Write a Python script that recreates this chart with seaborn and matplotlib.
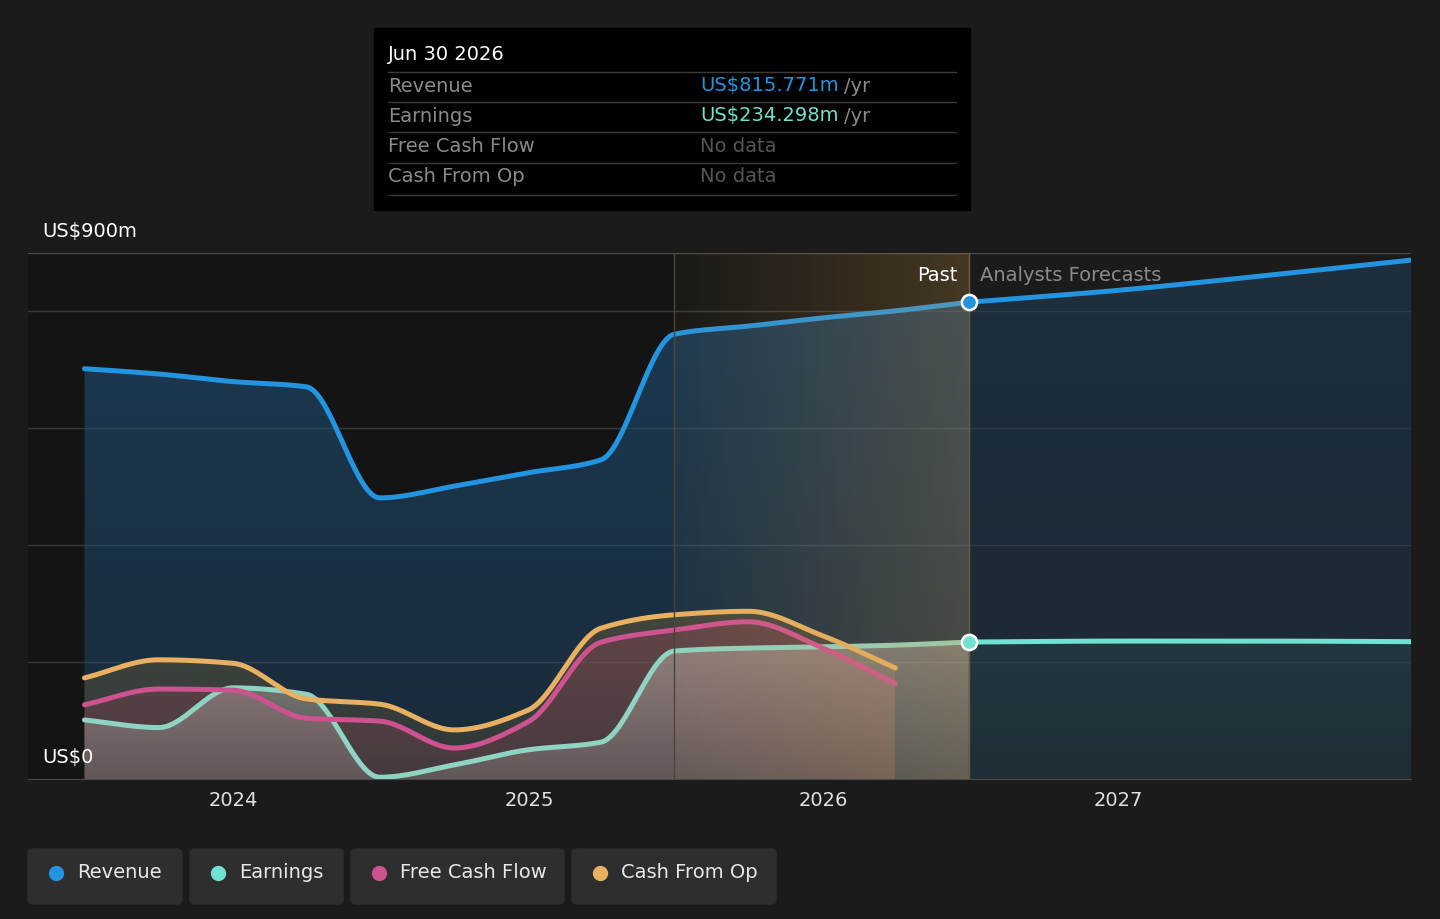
import numpy as np
import pandas as pd
import matplotlib
matplotlib.use("Agg")
import matplotlib.pyplot as plt
import matplotlib.dates as mdates
from matplotlib.patches import Rectangle, FancyBboxPatch
import seaborn as sns

# quarterly history (US$m, trailing twelve months)
past_dates = ["2023-06-30", "2023-09-30", "2023-12-31", "2024-03-31", "2024-06-30",
              "2024-09-30", "2024-12-31", "2025-03-31", "2025-06-30", "2025-09-30",
              "2025-12-31", "2026-03-31", "2026-06-30"]
revenue_past = [702, 693, 680, 671, 481, 501, 524, 546, 761, 775, 789, 801, 815.771]
earnings_past = [101, 88, 156, 145, 3, 24, 50, 63, 219, 224, 226, 229, 234.298]

cash_dates = past_dates[:12]
fcf = [127, 154, 152, 104, 99, 53, 98, 234, 255, 269, 224, 163]
cfo = [173, 204, 198, 137, 128, 84, 118, 258, 281, 287, 245, 190]

# analyst forecasts
fc_dates = ["2026-06-30", "2026-12-31", "2027-06-30", "2027-12-31"]
revenue_fc = [815.771, 836, 861, 888]
earnings_fc = [234.298, 236, 236, 235]

C_REV = "#2394df"
C_EARN = "#6fe3d0"
C_FCF = "#cf5290"
C_CFO = "#e8b060"
BG = "#1b1b1b"
FS = 14


def pchip(x, y, xs):
    x = np.asarray(x, float); y = np.asarray(y, float)
    h = np.diff(x); d = np.diff(y) / h
    m = np.zeros_like(y)
    for i in range(1, len(y) - 1):
        if d[i - 1] * d[i] > 0:
            w1 = 2 * h[i] + h[i - 1]; w2 = h[i] + 2 * h[i - 1]
            m[i] = (w1 + w2) / (w1 / d[i - 1] + w2 / d[i])
    m[0] = d[0]; m[-1] = d[-1]
    idx = np.clip(np.searchsorted(x, xs) - 1, 0, len(h) - 1)
    t = (xs - x[idx]) / h[idx]
    h00 = 2 * t**3 - 3 * t**2 + 1; h10 = t**3 - 2 * t**2 + t
    h01 = -2 * t**3 + 3 * t**2; h11 = t**3 - t**2
    return h00 * y[idx] + h10 * h[idx] * m[idx] + h01 * y[idx + 1] + h11 * h[idx] * m[idx + 1]


def smooth(dates, vals, n=400):
    x = mdates.date2num(pd.to_datetime(dates))
    xs = np.linspace(x[0], x[-1], n)
    return pd.DataFrame({"x": xs, "v": pchip(x, vals, xs)})


def grad_fill(ax, df, rgb, a_top, a_bot, z):
    x = df["x"].values; y = df["v"].values
    poly, = ax.fill(np.r_[x, x[::-1]], np.r_[y, np.zeros_like(y)], facecolor="none", edgecolor="none")
    img = np.zeros((100, 1, 4))
    img[..., :3] = rgb
    img[..., 3] = np.linspace(a_top, a_bot, 100)[:, None]
    im = ax.imshow(img, extent=(x[0], x[-1], 0, y.max()), aspect="auto", origin="upper", zorder=z)
    im.set_clip_path(poly)


sns.set_style("dark")
plt.rcParams["font.family"] = ["DejaVu Sans"]

fig = plt.figure(figsize=(14.4, 9.19), dpi=100, facecolor=BG)
ax = fig.add_axes([28 / 1440, 1 - 779 / 919, (1411 - 28) / 1440, (779 - 253) / 919])
ax.set_facecolor(BG)

x0 = mdates.date2num(pd.Timestamp("2023-04-21"))
x1 = mdates.date2num(pd.Timestamp("2027-12-30"))
xnow = mdates.date2num(pd.Timestamp("2026-06-30"))
xband = mdates.date2num(pd.Timestamp("2025-06-30"))

# darker past region
ax.add_patch(Rectangle((x0, 0), xnow - x0, 900, color="#141414", zorder=0, lw=0))

for g in [200, 400, 600, 800]:
    ax.axhline(g, color="#383838", lw=1, zorder=0.6)
ax.axhline(900, color="#4a4a4a", lw=1, zorder=0.6)

rev_p = smooth(past_dates, revenue_past)
rev_f = smooth(fc_dates, revenue_fc, 200)
earn_p = smooth(past_dates, earnings_past)
earn_f = smooth(fc_dates, earnings_fc, 200)
fcf_s = smooth(cash_dates, fcf)
cfo_s = smooth(cash_dates, cfo)

# area fills with vertical fade
grad_fill(ax, rev_p, (0.13, 0.33, 0.50), 0.58, 0.35, 1.0)
grad_fill(ax, rev_f, (0.13, 0.25, 0.36), 0.55, 0.35, 1.0)
grad_fill(ax, cfo_s, (0.45, 0.38, 0.22), 0.45, 0.25, 1.1)
grad_fill(ax, fcf_s, (0.55, 0.27, 0.33), 0.45, 0.25, 1.2)
grad_fill(ax, earn_p, (0.72, 0.69, 0.66), 0.55, 0.25, 1.3)
grad_fill(ax, earn_f, (0.18, 0.32, 0.34), 0.35, 0.15, 1.3)

LW = 3.6
sns.lineplot(data=rev_p, x="x", y="v", color=C_REV, lw=LW, ax=ax, zorder=3)
sns.lineplot(data=rev_f, x="x", y="v", color=C_REV, lw=LW, ax=ax, zorder=3)
sns.lineplot(data=earn_p, x="x", y="v", color="#8fd3c2", lw=LW, ax=ax, zorder=3)
sns.lineplot(data=earn_f, x="x", y="v", color=C_EARN, lw=LW, ax=ax, zorder=3)
sns.lineplot(data=fcf_s, x="x", y="v", color=C_FCF, lw=LW, ax=ax, zorder=3.2)
sns.lineplot(data=cfo_s, x="x", y="v", color=C_CFO, lw=LW, ax=ax, zorder=3.1)

# highlight band over the last year of history
band = np.zeros((1, 256, 4))
band[..., 0] = 0.82; band[..., 1] = 0.62; band[..., 2] = 0.32
band[..., 3] = np.linspace(0.04, 0.26, 256)
ax.imshow(band, extent=(xband, xnow, 0, 900), aspect="auto", zorder=4, origin="upper")
ax.axvline(xband, color="#4a443a", lw=1, zorder=4.1)
ax.axvline(xnow, color="#6a5c40", lw=1, zorder=4.1)

ax.scatter([xnow], [revenue_past[-1]], s=120, color=C_REV, edgecolor="white", lw=1.8, zorder=5)
ax.scatter([xnow], [earnings_past[-1]], s=120, color=C_EARN, edgecolor="white", lw=1.8, zorder=5)

ax.text(xnow - 14, 862, "Past", color="white", fontsize=FS, ha="right", va="center", zorder=6)
ax.text(xnow + 14, 862, "Analysts Forecasts", color="#8a8a8a", fontsize=FS, ha="left", va="center", zorder=6)

ax.set_xlim(x0, x1)
ax.set_ylim(0, 900)
ax.set_xlabel(""); ax.set_ylabel("")
ax.set_yticks([])
years = [pd.Timestamp(f"{y}-01-01") for y in [2024, 2025, 2026, 2027]]
ax.set_xticks(mdates.date2num(years))
ax.set_xticklabels([str(y.year) for y in years], color="#e0e0e0", fontsize=FS)
ax.tick_params(axis="x", length=6, color="#555555", pad=3)
for s in ["top", "left", "right"]:
    ax.spines[s].set_visible(False)
ax.spines["bottom"].set_color("#4a4a4a")
ax.grid(False)

fig.text(42 / 1440, 1 - 232 / 919, "US$900m", color="white", fontsize=FS, va="center")
fig.text(42 / 1440, 1 - 758 / 919, "US$0", color="white", fontsize=FS, va="center")

# tooltip
fig.patches.append(Rectangle((374 / 1440, 1 - 210 / 919), 596 / 1440, 182 / 919,
                             transform=fig.transFigure, color="black", zorder=10))
fig.text(388 / 1440, 1 - 55 / 919, "Jun 30 2026", color="white", fontsize=FS, va="center", zorder=11)
rows = [("Revenue", "US$815.771m", C_REV), ("Earnings", "US$234.298m", C_EARN),
        ("Free Cash Flow", "No data", None), ("Cash From Op", "No data", None)]
row_y = [86, 116, 147, 177]
for (lab, val, col), yv in zip(rows, row_y):
    fig.text(388 / 1440, 1 - yv / 919, lab, color="#8a8a8a", fontsize=FS, va="center", zorder=11)
    if col:
        fig.text(700 / 1440, 1 - yv / 919, val, color=col, fontsize=FS, va="center", zorder=11)
        fig.text(844 / 1440, 1 - yv / 919, "/yr", color="#8a8a8a", fontsize=FS, va="center", zorder=11)
    else:
        fig.text(700 / 1440, 1 - yv / 919, val, color="#555555", fontsize=FS, va="center", zorder=11)
for ly in [72, 102, 132, 163, 195]:
    fig.add_artist(plt.Line2D([388 / 1440, 956 / 1440], [1 - ly / 919] * 2, color="#3a3a3a", lw=1, zorder=11))

# legend chips
chips = [("Revenue", C_REV, 28, 182), ("Earnings", C_EARN, 190, 343),
         ("Free Cash Flow", C_FCF, 351, 564), ("Cash From Op", C_CFO, 572, 776)]
for lab, col, a, b in chips:
    fig.patches.append(FancyBboxPatch((a / 1440, 1 - 904 / 919), (b - a) / 1440, 55 / 919,
                                      boxstyle="round,pad=0,rounding_size=0.004",
                                      transform=fig.transFigure, color="#2e2e2e", zorder=10))
    fig.add_artist(plt.Line2D([(a + 28) / 1440], [1 - 873 / 919], marker="o", ms=10,
                              color=col, transform=fig.transFigure, zorder=11))
    fig.text((a + 49) / 1440, 1 - 873 / 919, lab, color="#e8e8e8", fontsize=FS, va="center", zorder=11)

fig.savefig("out.png", dpi=100, facecolor=BG)
